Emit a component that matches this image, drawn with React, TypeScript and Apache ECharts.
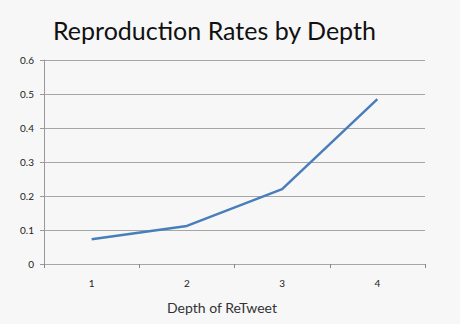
import React, { useEffect, useRef } from "react";
import * as echarts from "echarts";

const categories = ["1", "2", "3", "4"];
const rates = [0.073, 0.112, 0.22, 0.485];
const titleText = "Reproduction Rates by Depth";
const xName = "Depth of ReTweet";

export default function App() {
  const ref = useRef<HTMLDivElement>(null);
  useEffect(() => {
    const chart = echarts.init(ref.current!, null, { renderer: "svg" });
    chart.setOption({
      animation: false,
      backgroundColor: "#f7f7f7",
      title: {
        text: titleText,
        left: 48,
        top: 12,
        textStyle: { fontFamily: "Lato", fontWeight: "normal", fontSize: 25, color: "#111" },
      },
      grid: { left: 44, right: 35, top: 60, bottom: 60 },
      xAxis: {
        type: "category",
        data: categories,
        boundaryGap: true,
        name: xName,
        nameLocation: "middle",
        nameGap: 36,
        nameTextStyle: { fontFamily: "Lato", fontSize: 14, color: "#333", padding: [0, 25, 0, 0] },
        axisLine: { lineStyle: { color: "#a6a6a6", width: 1 } },
        axisTick: { show: true, length: 4, alignWithLabel: false, lineStyle: { color: "#888" } },
        axisLabel: { fontFamily: "Lato", fontSize: 10, color: "#222", margin: 14 },
      },
      yAxis: {
        type: "value",
        min: 0,
        max: 0.6,
        interval: 0.1,
        axisLine: { show: true, lineStyle: { color: "#999", width: 1 } },
        axisTick: { show: true, length: 4, lineStyle: { color: "#999" } },
        axisLabel: { fontFamily: "Lato", fontSize: 10, color: "#222", margin: 10 },
        splitLine: { lineStyle: { color: "#a6a6a6", width: 1 } },
      },
      series: [
        {
          type: "line",
          data: rates,
          symbol: "none",
          lineStyle: { color: "#4a7ebb", width: 2.5 },
        },
      ],
    });
    return () => chart.dispose();
  }, []);
  return <div ref={ref} style={{ width: 460, height: 324, position: "absolute", left: 0, top: 0 }} />;
}
